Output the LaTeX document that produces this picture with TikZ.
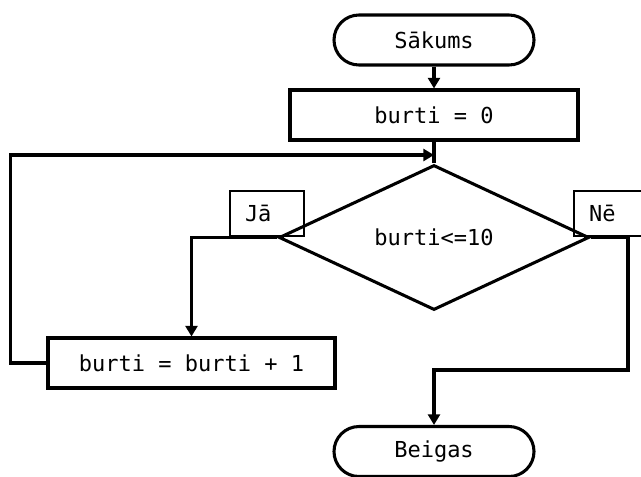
\documentclass[tikz,border=0pt]{standalone}
\usepackage{fontspec}
\setmonofont{DejaVu Sans Mono}
\usetikzlibrary{arrows.meta}
\usetikzlibrary{shapes.geometric}
\newcommand{\flowfont}{\ttfamily\fontsize{16.5}{19}\selectfont}

\begin{document}
\begin{tikzpicture}[x=0.75pt,y=-0.75pt,line width=2.3pt,>={Triangle[length=8pt,width=9pt]},
	term node/.style={rectangle,rounded corners=18.75pt,draw,minimum width=150pt,minimum height=37.5pt,font=\flowfont},
	box node/.style={rectangle,draw,minimum width=216pt,minimum height=37.5pt,font=\flowfont},
	cond node/.style={diamond,draw,minimum width=232.5pt,minimum height=108.75pt,inner sep=0pt,font=\flowfont},
	label node/.style={rectangle,draw,line width=1pt,minimum width=55.5pt,minimum height=33.75pt,text width=33pt,inner xsep=11.25pt,align=left,font=\flowfont}]

				\useasboundingbox (0,0) rectangle (641,476);

				\node[term node] (start) at (434,40) {Sākums};
				\node[box node] (init) at (434,115) {burti = 0};
				\node[cond node] (cond) at (434,237.5) {burti<=10};
				\node[box node,minimum width=215.25pt] (incr) at (191.5,363) {burti = burti + 1};
				\node[term node] (end) at (434,451.5) {Beigas};
				\node[label node] (yes) at (267,213.5) {Jā};
				\node[label node] (no) at (611,213.5) {Nē};

				\coordinate (merge) at (434,155);
				\coordinate (nobend) at (628,370);

				\draw[->] (start) -- (init);
				\draw (init) -- (cond);
				\draw[->] (incr.west) -- ++(-36,0) |- (merge);
				\draw[->] (cond.west) -| (incr.north);
				\draw[->] (cond.east) -| (nobend) -| (end.north);

\end{tikzpicture}
\end{document}
